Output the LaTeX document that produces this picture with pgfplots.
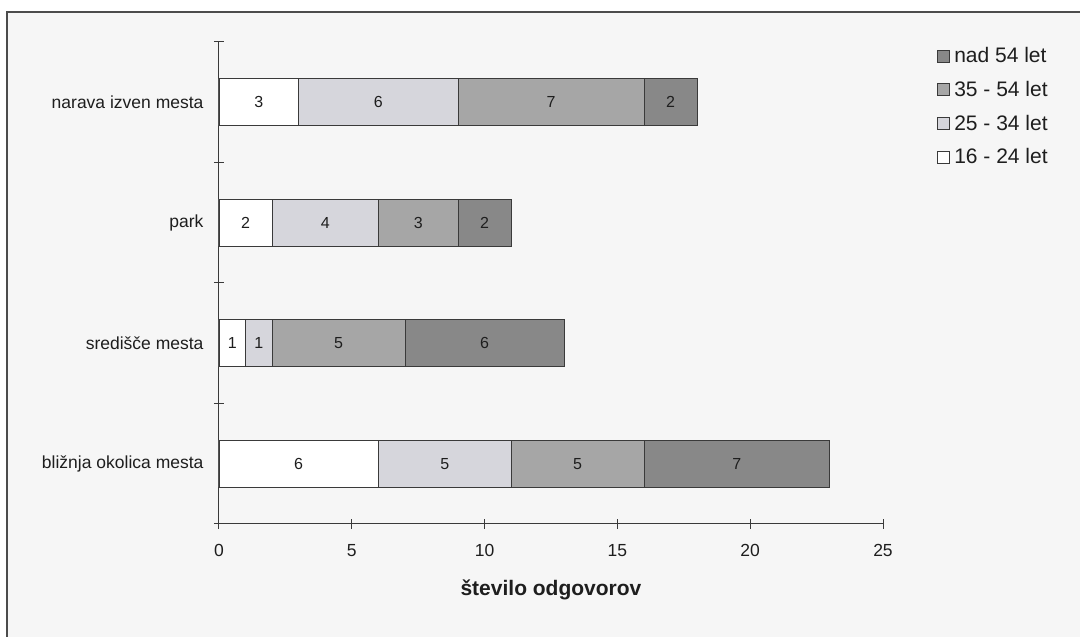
\documentclass[border=0pt]{standalone}
\usepackage{pgfplots}
\pgfplotsset{compat=1.18}
\usepackage{fontspec}
\setmainfont{Liberation Sans}
\definecolor{bgc}{HTML}{F6F6F6}
\definecolor{cA}{HTML}{FFFFFF}
\definecolor{cB}{HTML}{D6D6DC}
\definecolor{cC}{HTML}{A6A6A6}
\definecolor{cD}{HTML}{888888}
\definecolor{lc}{HTML}{3A3A3A}
\definecolor{tc}{HTML}{1E1E1E}
\pgfplotsset{myleg/.style={legend image code/.code={\draw[##1, draw=lc, line width=0.8pt] (0pt,-6pt) rectangle (12pt,6pt);}}}
\begin{document}
\begin{tikzpicture}[x=1pt,y=1pt]
\useasboundingbox (0,0) rectangle (1080,637);
\fill[white] (0,0) rectangle (1080,637);
\filldraw[fill=bgc, draw=gray!60!black, line width=1.5pt] (7,625) rectangle (1095,-15);
\begin{axis}[
  at={(219pt,113pt)}, anchor=south west,
  width=664pt, height=482pt, scale only axis,
  xbar stacked, bar width=47pt,
  xmin=0, xmax=25, ymin=-0.5, ymax=3.5,
  axis x line=bottom, axis y line=left,
  axis line style={lc, line width=1pt, -},
  xtick={0,5,...,25},
  ytick={-0.5,0.5,1.5,2.5,3.5}, yticklabels={},
  extra y ticks={0,1,2,3},
  extra y tick labels={bližnja okolica mesta, središče mesta, park, narava izven mesta},
  extra y tick style={major tick length=0pt},
  tick style={lc, line width=1pt},
  major tick length=10pt,
  xtick align=center, ytick align=center,
  /pgf/number format/assume math mode=true,
  tick label style={font=\fontsize{17.5}{20}\selectfont, text=tc},
  yticklabel style={xshift=-12pt},
  xticklabel style={yshift=-12pt},
  xlabel={\textbf{število odgovorov}},
  xlabel style={font=\fontsize{21}{24}\selectfont, text=tc, at={(axis description cs:0.5,-0.137)}, anchor=center},
  reverse legend,
  legend style={at={(1.081,0.994)}, anchor=north west, draw=none, fill=none,
    font=\fontsize{21}{24}\selectfont, text=tc, row sep=12pt, inner sep=0pt,
    nodes={inner xsep=4.5pt, inner ysep=2.5pt}},
  legend cell align=left,
]
\addplot[fill=cA, draw=lc, line width=0.8pt, myleg] coordinates {(6,0) (1,1) (2,2) (3,3)};
\addlegendentry{16 - 24 let}
\addplot[fill=cB, draw=lc, line width=0.8pt, myleg] coordinates {(5,0) (1,1) (4,2) (6,3)};
\addlegendentry{25 - 34 let}
\addplot[fill=cC, draw=lc, line width=0.8pt, myleg] coordinates {(5,0) (5,1) (3,2) (7,3)};
\addlegendentry{35 - 54 let}
\addplot[fill=cD, draw=lc, line width=0.8pt, myleg] coordinates {(7,0) (6,1) (2,2) (2,3)};
\addlegendentry{nad 54 let}
\end{axis}
\begin{axis}[
  at={(219pt,113pt)}, anchor=south west,
  width=664pt, height=482pt, scale only axis,
  xmin=0, xmax=25, ymin=-0.5, ymax=3.5, hide axis,
]
\addplot[draw=none, mark=none, nodes near coords, point meta=explicit symbolic,
  nodes near coords align={center},
  every node near coord/.append style={anchor=center, font=\fontsize{16}{18}\selectfont, text=tc}]
  table[meta=v] {
x y v
3 0 6
8.5 0 5
13.5 0 5
19.5 0 7
0.5 1 1
1.5 1 1
4.5 1 5
10 1 6
1 2 2
4 2 4
7.5 2 3
10 2 2
1.5 3 3
6 3 6
12.5 3 7
17 3 2
};
\end{axis}
\end{tikzpicture}
\end{document}
